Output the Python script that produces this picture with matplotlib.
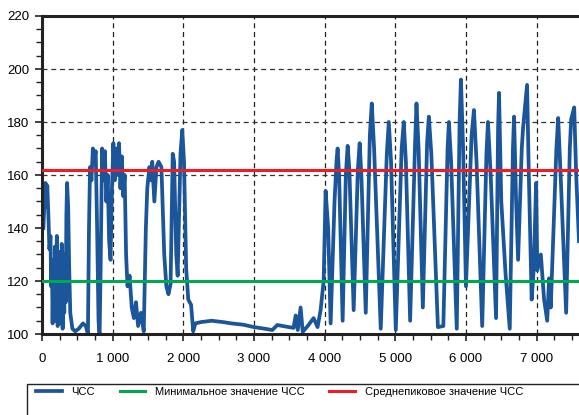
import matplotlib.pyplot as plt
from matplotlib.patches import Rectangle

plt.rcParams['font.family'] = ['Liberation Sans', 'DejaVu Sans']

# Heart rate trace as (time, bpm) pairs
hr_part1 = [(20, 140), (35, 150), (50, 157), (60, 148), (75, 156), (90, 145),
            (105, 132), (120, 137), (130, 118), (140, 128), (150, 104), (162, 126),
            (172, 108), (185, 133), (195, 105), (210, 137), (222, 103), (235, 128),
            (245, 106), (258, 131), (268, 104), (280, 134), (292, 102), (305, 125),
            (315, 108), (325, 130), (335, 112), (345, 145), (355, 157), (370, 148),
            (385, 125), (400, 108), (430, 102), (470, 101), (520, 102), (580, 104),
            (620, 103), (650, 100), (665, 140), (680, 163), (700, 158), (720, 170),
            (740, 166), (760, 169), (780, 140), (800, 105), (815, 99), (830, 125),
            (850, 170), (870, 158), (890, 169), (910, 150), (930, 160), (950, 135),
            (970, 128), (990, 155), (1010, 172), (1030, 158), (1050, 170),
            (1070, 160), (1090, 172), (1110, 155), (1130, 167), (1150, 152),
            (1170, 160), (1190, 130), (1210, 118), (1240, 122), (1270, 110),
            (1300, 106), (1330, 112), (1360, 103), (1400, 108), (1440, 101),
            (1470, 140), (1490, 155), (1520, 163), (1545, 158), (1560, 165),
            (1590, 150), (1620, 163), (1650, 165), (1690, 163), (1730, 130),
            (1760, 118), (1790, 115), (1820, 119), (1850, 168), (1870, 165),
            (1900, 130), (1920, 122), (1960, 168), (1985, 177), (2010, 165),
            (2040, 125), (2070, 113), (2110, 111), (2140, 101), (2170, 104)]
hr_part2 = [(2250, 104.5), (2400, 105), (2560, 104.5), (2680, 104), (2850, 103.5),
            (3000, 102.6), (3150, 102), (3260, 101.5), (3330, 103.4), (3450, 102.8),
            (3560, 102.3), (3590, 107), (3620, 101.5), (3660, 110), (3690, 100.8),
            (3760, 103), (3844, 106), (3900, 102.6), (3943, 109), (3986, 120),
            (4014, 154), (4050, 140), (4085, 104)]
hr_part3 = [(4140, 150), (4170, 166), (4184, 170), (4205, 160), (4255, 105),
            (4300, 160), (4326, 171), (4350, 162), (4411, 109), (4470, 162),
            (4496, 172), (4520, 160), (4582, 108), (4640, 175), (4667, 187),
            (4700, 170), (4794, 102), (4880, 168), (4908, 180), (4940, 165),
            (5007, 101.5), (5090, 170), (5120, 180), (5150, 165), (5210, 105),
            (5280, 172), (5300, 187), (5330, 170), (5390, 110), (5450, 172),
            (5475, 182), (5510, 168), (5603, 102.6), (5680, 103), (5740, 170),
            (5759, 180), (5790, 165), (5870, 102), (5910, 180), (5929, 196),
            (5960, 170), (6000, 118), (6080, 175), (6113, 184.5), (6150, 165),
            (6230, 103), (6290, 168), (6312, 180), (6350, 160), (6426, 106)]
hr_part4 = [(6455, 178), (6468, 191), (6500, 150), (6560, 123), (6620, 102),
            (6665, 170), (6681, 182), (6710, 150), (6738, 128), (6790, 170),
            (6809, 178), (6865, 194), (6890, 160), (6930, 113), (6960, 125),
            (6993, 157), (7010, 124), (7060, 130), (7106, 113), (7150, 105),
            (7177, 121), (7200, 110), (7280, 170), (7305, 181.5), (7340, 160),
            (7418, 108), (7470, 170), (7489, 181), (7532, 185.5), (7560, 160),
            (7600, 135)]

# Reference levels
min_hr = 120
peak_hr = 162

xticks = [0, 1000, 2000, 3000, 4000, 5000, 6000, 7000]
xtick_labels = ['0', '1 000', '2 000', '3 000', '4 000', '5 000', '6 000', '7 000']
yticks = [100, 120, 140, 160, 180, 200, 220]
hgrid = [160, 180, 200]

pts = hr_part1 + hr_part2 + hr_part3 + hr_part4
t = [p[0] for p in pts]
hr = [p[1] for p in pts]

fig = plt.figure(figsize=(5.79, 4.15), dpi=100)
ax = fig.add_axes([42 / 579, 81 / 415, 1 - 42 / 579, 318 / 415])

for v in xticks[1:]:
    ax.axvline(v, color='#222222', lw=0.9, ls=(0, (4, 3)), zorder=1)
for v in hgrid:
    ax.axhline(v, color='#333333', lw=0.9, ls=(0, (4, 3)), zorder=1)

ax.plot(t, hr, color='#1b559a', lw=2.7, solid_joinstyle='round', zorder=2,
        label='ЧСС')
ax.axhline(min_hr, color='#00a84f', lw=2.2, zorder=3,
           label='Минимальное значение ЧСС')
ax.axhline(peak_hr, color='#ee1c25', lw=2.2, zorder=3,
           label='Среднепиковое значение ЧСС')

ax.set_xlim(0, 7600)
ax.set_ylim(100, 220)
ax.set_xticks(xticks)
ax.set_xticklabels(xtick_labels)
ax.set_xticks(range(0, 7600, 250), minor=True)
ax.set_yticks(yticks)
ax.set_yticks(range(100, 221, 5), minor=True)
ax.tick_params(which='major', length=5, width=1.2, labelsize=9.5, color='#222222')
ax.tick_params(which='minor', length=4, width=1.0, color='#222222')
ax.tick_params(axis='x', pad=9)
ax.tick_params(axis='y', pad=4)

for s in ['left', 'bottom', 'top']:
    ax.spines[s].set_linewidth(2.2)
    ax.spines[s].set_color('#222222')
ax.spines['right'].set_visible(False)

# legend box, cut by the bottom and right edges like the reference
fig.patches.append(Rectangle((27 / 579, -0.2), 1.0, 0.2 + 31 / 415,
                             transform=fig.transFigure, fill=False,
                             edgecolor='#222222', lw=1.0, clip_on=False))
h, l = ax.get_legend_handles_labels()
fig.legend(h, l, loc='center left', bbox_to_anchor=(26 / 579, 23 / 415), ncol=3,
           frameon=False, fontsize=8, handlelength=2.3, handletextpad=0.9,
           columnspacing=2.2)

fig.savefig('out.png', dpi=100)
